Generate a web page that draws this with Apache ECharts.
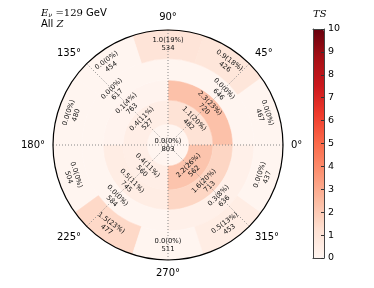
<!DOCTYPE html>
<html><head><meta charset="utf-8">
<script src="https://cdn.jsdelivr.net/npm/echarts@6/dist/echarts.min.js"></script>
<style>html,body{margin:0;padding:0;background:#fff}#c{width:374px;height:288px}</style>
</head><body><div id="c"></div>
<script>
// ring boundaries (fraction of outer radius), number of sectors per ring
const ringEdges = [0, 0.183, 0.391, 0.565, 0.748, 1.0];
const ringSectors = [1, 4, 4, 4, 10];
// values per ring, sectors counter-clockwise starting at 0°
const tsValues = [
  [0.0],
  [1.1, 0.4, 0.4, 2.2],
  [2.3, 0.1, 0.5, 1.6],
  [0.0, 0.0, 0.0, 0.3],
  [0.0, 0.9, 1.0, 0.0, 0.0, 0.0, 1.5, 0.0, 0.5, 0.0]
];
const pctValues = [
  [0],
  [20, 11, 11, 26],
  [23, 4, 11, 20],
  [0, 0, 0, 8],
  [0, 18, 19, 0, 0, 0, 23, 0, 13, 0]
];
const countValues = [
  [803],
  [482, 527, 560, 562],
  [720, 763, 745, 713],
  [646, 617, 584, 636],
  [467, 426, 534, 454, 480, 504, 477, 511, 453, 437]
];
const angleTicks = [0, 45, 90, 135, 180, 225, 270, 315];
const colorTicks = [0,1,2,3,4,5,6,7,8,9,10];
const redsColors = ['#fff5f0','#fee0d2','#fcbba1','#fc9272','#fb6a4a','#ef3b2c','#cb181d','#a50f15','#67000d'];

const cells = [];
for (let i = 0; i < ringSectors.length; i++) {
  const n = ringSectors[i], w = 360 / n;
  for (let k = 0; k < n; k++) {
    cells.push([ringEdges[i], ringEdges[i+1], k*w, (k+1)*w, tsValues[i][k], pctValues[i][k], countValues[i][k]]);
  }
}

const chart = echarts.init(document.getElementById('c'), null, {renderer: 'canvas'});
const FONT = 'DejaVu Sans';

function renderItem(params, api) {
  const cs = params.coordSys;
  const cx = cs.cx, cy = cs.cy;
  const r0v = api.value(0), r1v = api.value(1), a0 = api.value(2), a1 = api.value(3);
  const p0 = api.coord([r0v, 0]), p1 = api.coord([r1v, 0]);
  const rin = Math.hypot(p0[0]-cx, p0[1]-cy);
  const rout = Math.hypot(p1[0]-cx, p1[1]-cy);
  const color = api.visual('color');
  const amid = (a0 + a1) / 2;
  const pm = api.coord([(r0v + r1v) / 2, amid]);
  let rot = r0v === 0 ? 0 : amid - 90;
  while (rot > 90) rot -= 180;
  while (rot <= -90) rot += 180;
  const ts = api.value(4), pct = api.value(5), cnt = api.value(6);
  return {
    type: 'group',
    children: [
      {
        type: 'sector',
        shape: {cx: cx, cy: cy, r0: rin, r: rout,
          startAngle: -a1 * Math.PI / 180, endAngle: -a0 * Math.PI / 180, clockwise: true},
        style: {fill: color, stroke: color, lineWidth: 0.5}
      },
      {
        type: 'text',
        x: r0v === 0 ? cx : pm[0], y: r0v === 0 ? cy : pm[1],
        rotation: rot * Math.PI / 180,
        z2: 10,
        style: {
          text: ts.toFixed(1) + '(' + pct + '%)\n' + cnt,
          fontFamily: FONT, fontSize: 6.8, lineHeight: 8,
          fill: '#111', align: 'center', verticalAlign: 'middle'
        }
      }
    ]
  };
}

chart.setOption({
  animation: false,
  backgroundColor: '#fff',
  title: {
    left: 36, top: 3,
    text: '{it|E}{sub|ν} {ser|=129} GeV\nAll {it|Z}',
    textStyle: {
      fontFamily: FONT, fontSize: 10, fontWeight: 'normal', color: '#000', lineHeight: 11,
      rich: {
        it: {fontFamily: 'DejaVu Serif', fontStyle: 'italic', fontSize: 10, color: '#000'},
        sub: {fontFamily: 'DejaVu Serif', fontStyle: 'italic', fontSize: 6.5, color: '#000', verticalAlign: 'bottom', padding: [6,0,0,0]},
        ser: {fontFamily: 'DejaVu Serif', fontSize: 10, color: '#000'}
      }
    }
  },
  polar: {center: [168, 145], radius: 115},
  angleAxis: {
    type: 'value', min: 0, max: 360, interval: 45, startAngle: 0, clockwise: false, z: 5,
    axisLine: {show: true, lineStyle: {color: '#000', width: 1.2}},
    axisTick: {show: false},
    axisLabel: {
      margin: 8, color: '#000', fontFamily: FONT, fontSize: 10,
      formatter: v => angleTicks.indexOf(v) >= 0 ? v + '°' : ''
    },
    splitLine: {show: true, lineStyle: {color: '#888', type: [1, 2], width: 1}}
  },
  radiusAxis: {
    type: 'value', min: 0, max: 1, show: false,
    axisLine: {show: false}, axisLabel: {show: false}, axisTick: {show: false}, splitLine: {show: false}
  },
  grid: {left: 313, top: 29, width: 11, height: 229},
  xAxis: [
    {type: 'value', min: 0, max: 1, position: 'bottom', z: 10,
      axisLine: {show: true, onZero: false, lineStyle: {color: '#444', width: 1}},
      axisTick: {show: false}, axisLabel: {show: false}, splitLine: {show: false}},
    {type: 'value', min: 0, max: 1, position: 'top', z: 10,
      axisLine: {show: true, onZero: false, lineStyle: {color: '#444', width: 1}},
      axisTick: {show: false}, axisLabel: {show: false}, splitLine: {show: false}}
  ],
  yAxis: [
    {type: 'value', min: 0, max: 10, interval: 1, position: 'right', z: 10,
      axisLine: {show: true, onZero: false, lineStyle: {color: '#444', width: 1}},
      axisTick: {show: true, inside: true, length: 3, lineStyle: {color: '#333'}},
      axisLabel: {color: '#000', fontFamily: FONT, fontSize: 9.5, margin: 4,
        formatter: v => colorTicks.indexOf(v) >= 0 ? String(v) : ''},
      splitLine: {show: false}},
    {type: 'value', min: 0, max: 10, position: 'left', z: 10,
      axisLine: {show: true, onZero: false, lineStyle: {color: '#444', width: 1}},
      axisTick: {show: false}, axisLabel: {show: false}, splitLine: {show: false}}
  ],
  graphic: [{
    type: 'text', left: 313, top: 9,
    style: {text: 'TS', fontFamily: 'DejaVu Serif', fontStyle: 'italic', fontSize: 10, fill: '#000'}
  }],
  visualMap: {
    type: 'continuous', min: 0, max: 10, dimension: 4, seriesIndex: 0,
    left: 313, top: 29, itemWidth: 11, itemHeight: 229, padding: 0,
    calculable: false, text: null, z: 4,
    inRange: {color: redsColors}
  },
  series: [{
    type: 'custom', coordinateSystem: 'polar',
    dimensions: ['r0', 'r1', 'a0', 'a1', 'ts', 'pct', 'count'],
    encode: {radius: [0, 1], angle: [2, 3]},
    renderItem: renderItem,
    data: cells,
    z: 2
  }]
});
</script>
</body></html>
